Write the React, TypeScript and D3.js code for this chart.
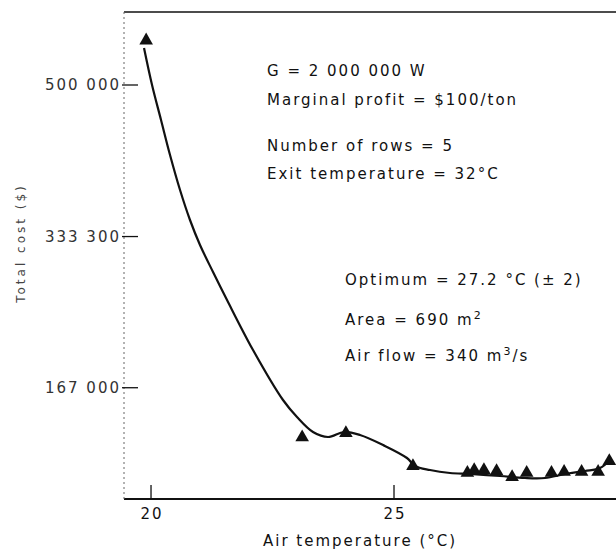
import React, { useEffect, useRef } from "react";
import * as d3 from "d3";

// Observed data points (triangles)
const tempPts = [19.9, 23.11, 24.01, 25.39, 26.51, 26.65, 26.85, 27.11, 27.43, 27.73, 28.24, 28.5, 28.86, 29.2, 29.43];
const costPts = [549000, 112500, 117200, 80800, 73500, 76500, 76500, 75400, 68800, 73500, 73500, 74600, 74600, 74600, 86400];

// Fitted curve
const curveTemp = [19.856, 20.021, 20.206, 20.391, 20.597, 20.802, 21.008, 21.276, 21.564, 22.099, 22.716, 23.004, 23.333, 23.642, 23.971, 24.3, 24.774, 25.267, 25.432, 25.741, 26.152, 26.564, 27.181, 27.695, 28.107, 28.519, 28.93, 29.239, 29.444];
const curveCost = [540700, 500000, 461500, 423000, 384500, 351500, 324000, 294300, 263500, 208500, 153500, 134800, 118300, 112800, 118300, 115000, 104000, 89700, 80900, 76500, 73200, 72100, 69900, 67700, 67700, 72100, 75400, 78700, 87500];

const xTicks = [20, 25];
const yTicks = [500000, 333300, 167000];
const yTickLabels = ["500 000", "333 300", "167 000"];

const xDomain = [19.444, 29.568];
const yDomain = [44600, 580300];

const notesTop = ["G = 2 000 000 W", "Marginal profit = $100/ton"];
const notesMid = ["Number of rows = 5", "Exit temperature = 32°C"];

export default function App() {
  const ref = useRef<SVGSVGElement>(null);
  useEffect(() => {
    const svg = d3.select(ref.current);
    svg.selectAll("*").remove();
    const W = 616, H = 551;
    const left = 124, right = 616, top = 12, bottom = 499;
    const x = d3.scaleLinear().domain(xDomain).range([left, right]);
    const y = d3.scaleLinear().domain(yDomain).range([bottom, top]);
    const font = "DejaVu Sans, sans-serif";

    svg.append("rect").attr("width", W).attr("height", H).attr("fill", "#fff");

    // frame
    svg.append("line").attr("x1", left).attr("x2", right).attr("y1", top).attr("y2", top)
      .attr("stroke", "#111").attr("stroke-width", 1.5);
    svg.append("line").attr("x1", left).attr("x2", right).attr("y1", bottom).attr("y2", bottom)
      .attr("stroke", "#111").attr("stroke-width", 1.8);
    svg.append("line").attr("x1", left).attr("x2", left).attr("y1", top).attr("y2", bottom)
      .attr("stroke", "#666").attr("stroke-width", 1).attr("stroke-dasharray", "2,3");

    // y ticks
    yTicks.forEach((t, i) => {
      svg.append("line").attr("x1", left - 2).attr("x2", left + 14).attr("y1", y(t)).attr("y2", y(t))
        .attr("stroke", "#111").attr("stroke-width", 1.3);
      svg.append("text").attr("x", left - 3).attr("y", y(t)).attr("dy", "0.36em")
        .attr("text-anchor", "end").attr("font-family", font).attr("font-size", 15)
        .attr("letter-spacing", 2).attr("fill", "#333").text(yTickLabels[i]);
    });
    // x ticks
    xTicks.forEach((t) => {
      svg.append("line").attr("x1", x(t)).attr("x2", x(t)).attr("y1", bottom).attr("y2", bottom - 14)
        .attr("stroke", "#111").attr("stroke-width", 1.3);
      svg.append("text").attr("x", x(t) + 1).attr("y", 519)
        .attr("text-anchor", "middle").attr("font-family", font).attr("font-size", 15)
        .attr("letter-spacing", 2).attr("fill", "#111").text(String(t));
    });

    // axis titles
    svg.append("text").attr("x", 263).attr("y", 546).attr("font-family", font).attr("font-size", 15)
      .attr("letter-spacing", 2).attr("fill", "#111").text("Air temperature (°C)");
    svg.append("text").attr("transform", "translate(25,243) rotate(-90)")
      .attr("text-anchor", "middle").attr("font-family", font).attr("font-size", 12)
      .attr("letter-spacing", 3).attr("fill", "#444").text("Total cost ($)");

    // curve
    const line = d3.line<number>().x((d, i) => x(curveTemp[i])).y((d, i) => y(curveCost[i]))
      .curve(d3.curveCatmullRom.alpha(0.5));
    svg.append("path").attr("d", line(curveCost) || "").attr("fill", "none")
      .attr("stroke", "#111").attr("stroke-width", 2.2);

    // triangles
    const sym = d3.symbol().type(d3.symbolTriangle).size(80);
    tempPts.forEach((t, i) => {
      svg.append("path").attr("d", sym() || "")
        .attr("transform", `translate(${x(t)},${y(costPts[i])})`).attr("fill", "#111");
    });

    // notes
    const noteStyle = (s: any) => s.attr("font-family", font).attr("font-size", 15)
      .attr("letter-spacing", 2).attr("fill", "#111");
    noteStyle(svg.append("text").attr("x", 267).attr("y", 76)).text(notesTop[0]);
    noteStyle(svg.append("text").attr("x", 267).attr("y", 105)).text(notesTop[1]);
    noteStyle(svg.append("text").attr("x", 267).attr("y", 151)).text(notesMid[0]);
    noteStyle(svg.append("text").attr("x", 267).attr("y", 179)).text(notesMid[1]);

    noteStyle(svg.append("text").attr("x", 345).attr("y", 285)).text("Optimum = 27.2 °C (± 2)");
    const t2 = noteStyle(svg.append("text").attr("x", 345).attr("y", 325));
    t2.append("tspan").text("Area = 690 m");
    t2.append("tspan").attr("dy", -6).attr("font-size", 11).text("2");
    const t3 = noteStyle(svg.append("text").attr("x", 345).attr("y", 361));
    t3.append("tspan").text("Air flow = 340 m");
    t3.append("tspan").attr("dy", -6).attr("font-size", 11).text("3");
    t3.append("tspan").attr("dy", 6).text("/s");
  }, []);
  return (
    <svg ref={ref} width={616} height={551}
      style={{ position: "absolute", left: 0, top: 0, display: "block" }} />
  );
}
